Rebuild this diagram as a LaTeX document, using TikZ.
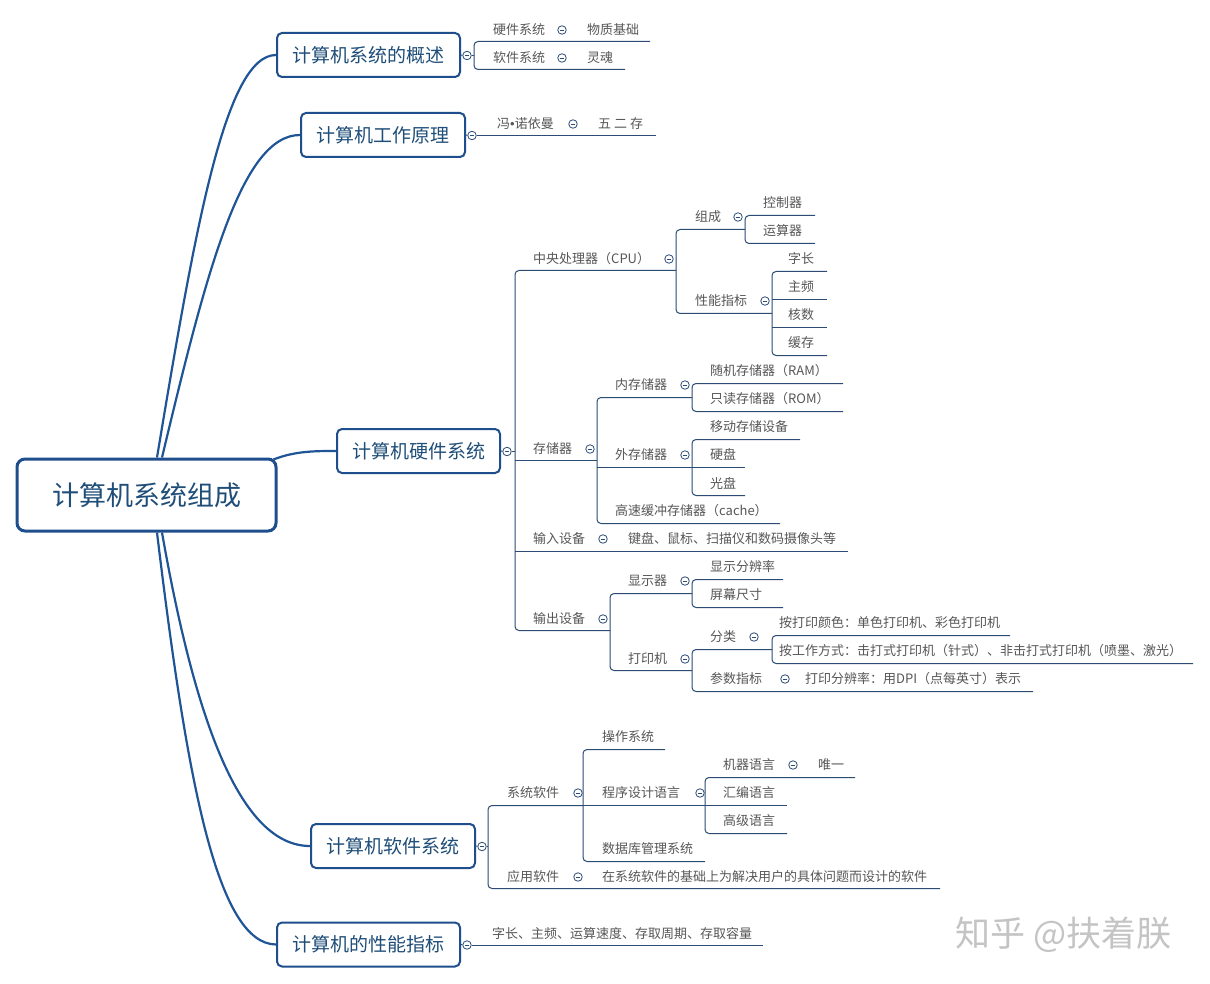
\documentclass[tikz,border=0pt]{standalone}
\usepackage{fontspec}
\setmainfont{Noto Sans CJK SC}
\newfontfamily\latinf{Liberation Sans}
\definecolor{mainblue}{HTML}{1F5596}
\definecolor{boxblue}{HTML}{1F4E8C}
\definecolor{linec}{HTML}{2C4C76}
\definecolor{txtgray}{HTML}{575757}
\definecolor{topictxt}{HTML}{1F4E79}
\definecolor{wm}{HTML}{C4C4C4}
\tikzset{
  topic/.style={draw=boxblue, line width=2pt, rounded corners=5pt, text=topictxt,
    font=\fontsize{19}{22}\selectfont, inner sep=0pt, minimum height=44pt},
  rootbox/.style={draw=boxblue, line width=3pt, rounded corners=8pt, text=topictxt,
    font=\fontsize{27}{30}\selectfont, inner sep=0pt, minimum width=259pt, minimum height=72pt},
  leaf/.style={anchor=west, inner sep=0pt, text=txtgray, font=\fontsize{13}{15}\selectfont},
  br/.style={draw=linec, line width=1pt},
  brr/.style={draw=linec, line width=1pt, rounded corners=4pt},
  curve/.style={draw=mainblue, line width=2.2pt},
  colnode/.style={circle, draw=linec, fill=white, line width=0.8pt, minimum size=8.5pt, inner sep=0pt,
    path picture={\draw[linec, line width=0.8pt] ([xshift=-2.3pt]path picture bounding box.center) -- ([xshift=2.3pt]path picture bounding box.center);}}
}
\begin{document}
\begin{tikzpicture}[x=1pt,y=-1pt]
\useasboundingbox[fill=white] (0,0) rectangle (1210,984);

% root and topics
\node[rootbox] (root) at (146.5,495) {计算机系统组成};
\node[topic, minimum width=183pt] (t1) at (368.5,55) {计算机系统的概述};
\node[topic, minimum width=164pt] (t2) at (383,135) {计算机工作原理};
\node[topic, minimum width=163pt] (t3) at (418.5,451) {计算机硬件系统};
\node[topic, minimum width=164pt] (t4) at (393,846) {计算机软件系统};
\node[topic, minimum width=183pt] (t5) at (368.5,944.5) {计算机的性能指标};

% root curves
\draw[curve] ([xshift=10.5pt]root.north) .. controls (195,230) and (225,55) .. (t1.west);
\draw[curve] ([xshift=15.5pt]root.north) .. controls (206,274) and (241,135) .. (t2.west);
\draw[curve] ([xshift=-4pt,yshift=-2pt]root.north east) .. controls (295,451) and (315,451) .. (t3.west);
\draw[curve] ([xshift=15.5pt]root.south) .. controls (195,720) and (240,846) .. (t4.west);
\draw[curve] ([xshift=10.5pt]root.south) .. controls (187,781) and (217,944) .. (t5.west);

\begin{scope}[yshift=-0.5pt]
% ---------- topic 1
\node[colnode] (c1) at (467,55) {};
\draw[br] (t1.east) -- (c1);
\draw[brr] (650,41) -- (474,41) -- (474,69) -- (625,69);
\draw[br] (c1) -- (474,55);
% ---------- topic 2
\node[colnode] (c2) at (472,135) {};
\draw[br] (t2.east) -- (c2);
\draw[br] (c2) -- (656,135);
% ---------- topic 3
\node[colnode] (c3) at (507,451) {};
\draw[br] (t3.east) -- (c3);
\draw[br] (c3) -- (515,451);
\draw[brr] (676,270) -- (515,270) -- (515,630) -- (610,630);
\draw[br] (515,460) -- (597,460);
\draw[br] (515,551) -- (848,551);
\draw[brr] (745,229) -- (676,229) -- (676,313) -- (772,313);
\draw[brr] (815,215) -- (745,215) -- (745,243) -- (815,243);
\draw[brr] (827,271) -- (772,271) -- (772,355) -- (827,355);
\draw[br] (772,299) -- (827,299);
\draw[br] (772,327) -- (827,327);
\draw[brr] (692,397) -- (597,397) -- (597,523) -- (780,523);
\draw[br] (597,467) -- (745,467);
\draw[brr] (843,383) -- (692,383) -- (692,411) -- (843,411);
\draw[brr] (800,439) -- (692,439) -- (692,495) -- (745,495);
\draw[brr] (692,593) -- (610,593) -- (610,670) -- (692,670);
\draw[brr] (783,579) -- (692,579) -- (692,607) -- (783,607);
\draw[brr] (772,649) -- (692,649) -- (692,691) -- (1033,691);
\draw[brr] (1010,635) -- (772,635) -- (772,663) -- (1193,663);
% ---------- topic 4
\node[colnode] (c4) at (482,846) {};
\draw[br] (t4.east) -- (c4);
\draw[br] (c4) -- (488,846);
\draw[brr] (583,805) -- (488,805) -- (488,888) -- (940,888);
\draw[br] (583,805) -- (787,805);
\draw[brr] (665,749) -- (583,749) -- (583,861) -- (705,861);
\draw[brr] (855,777) -- (705,777) -- (705,833) -- (787,833);
% ---------- topic 5
\node[colnode] (c5) at (467,944.5) {};
\draw[br] (t5.east) -- (c5);
\draw[br] (c5) -- (763,944.5);
\end{scope}

\begin{scope}[yshift=-1pt]
\node[leaf] (a1) at (493,29) {硬件系统};
\node[colnode] at (562,29) {};
\node[leaf] (a1x) at (587,29) {物质基础};
\node[leaf] (a2) at (493,57) {软件系统};
\node[colnode] at (562,57) {};
\node[leaf] (a2x) at (587,57) {灵魂};

\node[leaf] (b1) at (497,123) {冯{\latinf •}诺依曼};
\node[colnode] at (573,123) {};
\node[leaf] (b1x) at (598,123) {五 二 存};

\node[leaf] (cpu) at (533,258) {中央处理器（CPU）};
\node[colnode] at (669,258) {};
\node[leaf] (zc) at (695,216) {组成};
\node[colnode] at (738,216) {};
\node[leaf] at (763,202) {控制器};
\node[leaf] at (763,230) {运算器};
\node[leaf] (xn) at (695,300) {性能指标};
\node[colnode] at (765,300) {};
\node[leaf] at (788,258) {字长};
\node[leaf] at (788,286) {主频};
\node[leaf] at (788,314) {核数};
\node[leaf] at (788,342) {缓存};

\node[leaf] (mem) at (533,448) {存储器};
\node[colnode] at (590,448) {};
\node[leaf] at (615,384) {内存储器};
\node[colnode] at (685,384) {};
\node[leaf] at (710,370) {随机存储器（RAM）};
\node[leaf] at (710,398) {只读存储器（ROM）};
\node[leaf] at (615,454) {外存储器};
\node[colnode] at (685,454) {};
\node[leaf] at (710,426) {移动存储设备};
\node[leaf] at (710,454) {硬盘};
\node[leaf] at (710,482) {光盘};
\node[leaf] at (615,510) {高速缓冲存储器（cache）};

\node[leaf] at (533,538) {输入设备};
\node[colnode] at (603,538) {};
\node[leaf] at (628,538) {键盘、鼠标、扫描仪和数码摄像头等};

\node[leaf] at (533,618) {输出设备};
\node[colnode] at (603,618) {};
\node[leaf] at (628,580) {显示器};
\node[colnode] at (685,580) {};
\node[leaf] at (710,566) {显示分辨率};
\node[leaf] at (710,594) {屏幕尺寸};
\node[leaf] at (628,658) {打印机};
\node[colnode] at (685,658) {};
\node[leaf] at (710,636) {分类};
\node[colnode] at (754,636) {};
\node[leaf] at (779,622) {按打印颜色：单色打印机、彩色打印机};
\node[leaf] at (779,650) {按工作方式：击打式打印机（针式）、非击打式打印机（喷墨、激光）};
\node[leaf] at (710,678) {参数指标};
\node[colnode] at (785,678) {};
\node[leaf] at (805,678) {打印分辨率：用DPI（点每英寸）表示};

\node[leaf] at (507,792) {系统软件};
\node[colnode] at (578,792) {};
\node[leaf] at (602,736) {操作系统};
\node[leaf] at (602,792) {程序设计语言};
\node[colnode] at (700,792) {};
\node[leaf] at (723,764) {机器语言};
\node[colnode] at (793,764) {};
\node[leaf] at (818,764) {唯一};
\node[leaf] at (723,792) {汇编语言};
\node[leaf] at (723,820) {高级语言};
\node[leaf] at (602,848) {数据库管理系统};
\node[leaf] at (507,876) {应用软件};
\node[colnode] at (578,876) {};
\node[leaf] at (602,876) {在系统软件的基础上为解决用户的具体问题而设计的软件};

\node[leaf] at (492,933) {字长、主频、运算速度、存取周期、存取容量};
\end{scope}

% watermark
\node[anchor=west, inner sep=0pt, text=wm, font=\fontsize{35}{38}\selectfont] (wmk) at (955,935) {知乎 @扶着朕};
\end{tikzpicture}
\end{document}
